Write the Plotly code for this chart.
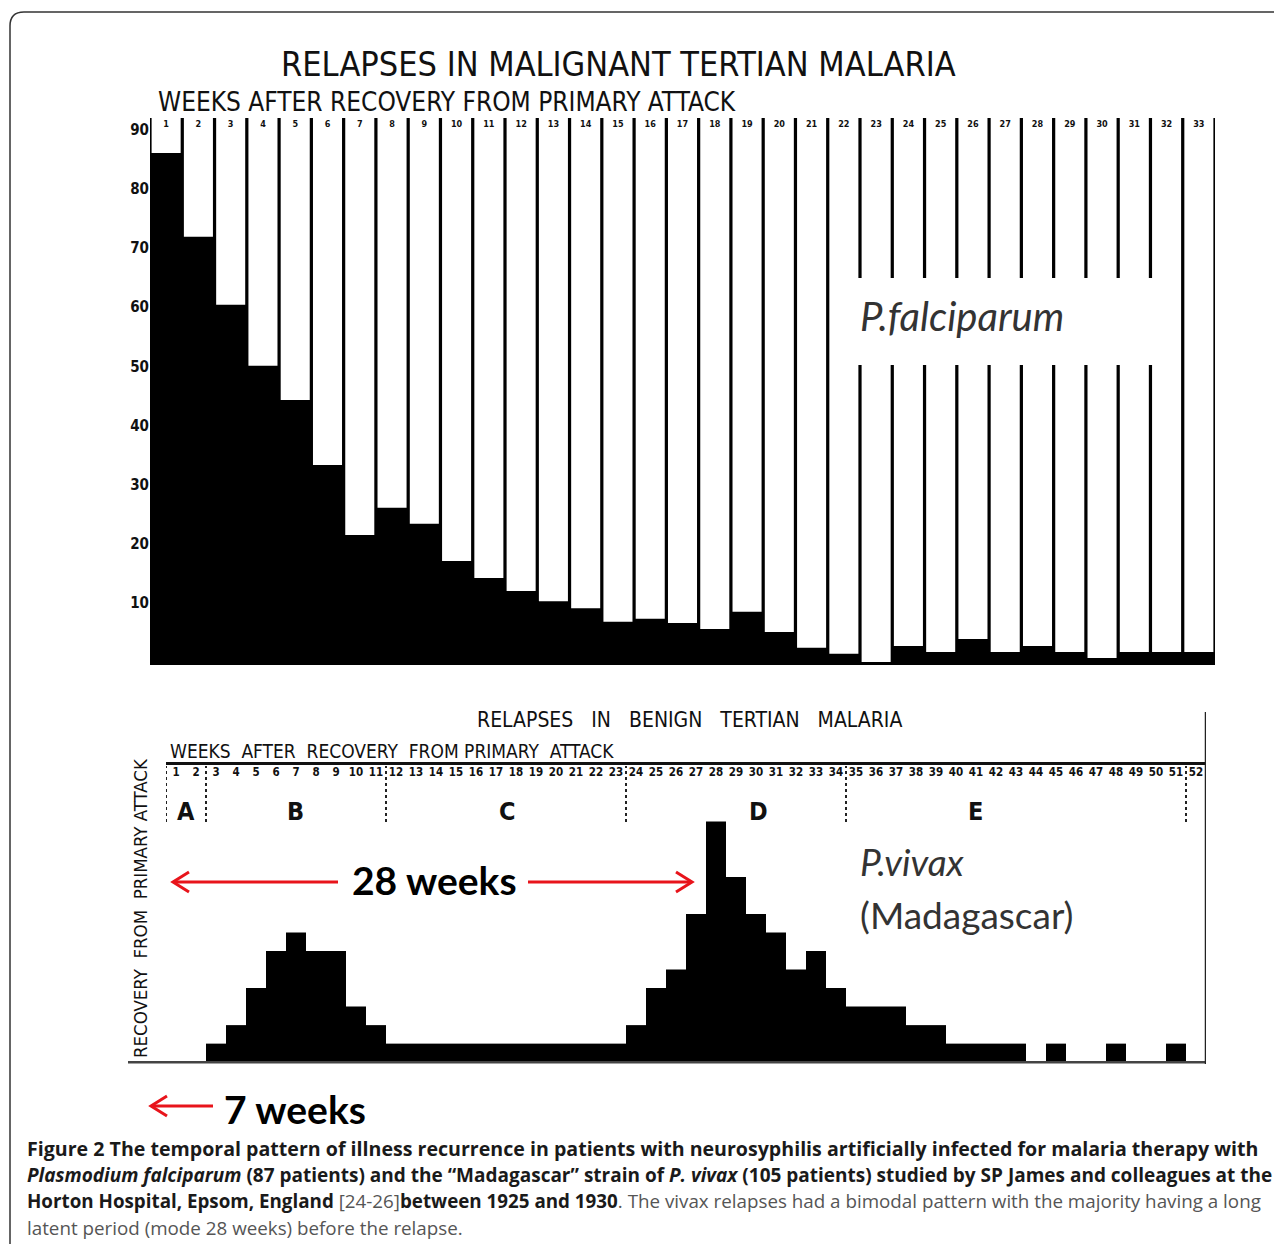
import plotly.graph_objects as go

# The page body has an 8px margin, so the figure is 8px smaller and shifted.
OFF = 8
W, H = 1274, 1236


def px(x):
    return (x - OFF) / W


def py(y):
    return 1 - (y - OFF) / H


# ---------------- data ----------------
weeks_top = list(range(1, 34))
falciparum_pct = [86.1, 71.9, 60.4, 50.1, 44.3, 33.3, 21.5, 26.1, 23.4, 17.1,
                  14.2, 12.0, 10.3, 9.1, 6.8, 7.3, 6.6, 5.6, 8.5, 5.1,
                  2.4, 1.4, 0.0, 2.7, 1.7, 3.9, 1.7, 2.7, 1.7, 0.7,
                  1.7, 1.7, 1.7]
top_tick_text = [str(w) for w in weeks_top]
top_y_ticks = [10, 20, 30, 40, 50, 60, 70, 80, 90]

weeks_bottom = list(range(1, 53))
vivax_counts = [0, 0, 1, 2, 4, 6, 7, 6, 6, 3, 2,
                1, 1, 1, 1, 1, 1, 1, 1, 1, 1, 1, 1,
                2, 4, 5, 8, 13, 10, 8, 7, 5, 6, 4,
                3, 3, 3, 2, 2, 1, 1, 1, 1, 0, 1, 0, 0, 1, 0, 0, 1, 0]
bottom_tick_text = [str(w) for w in weeks_bottom]
phase_bounds = [0.5, 2.5, 11.5, 23.5, 34.5, 51.5]
phase_labels = ["A", "B", "C", "D", "E"]
phase_label_x = [1.5, 6.95, 17.55, 30.1, 40.95]

TOP_MAX = 92.0
SCAN = "Liberation Sans Narrow, DejaVu Sans Condensed, Roboto Condensed, Roboto, sans-serif"
CAL = "Lato, Open Sans, sans-serif"
CAP = "Open Sans, Lato, sans-serif"
RED = "#e8141b"

fig = go.Figure()

# top chart: black survival columns, white remainder above
fig.add_trace(go.Bar(x=weeks_top, y=falciparum_pct, width=1.0, marker=dict(color="black", line_width=0),
                     xaxis="x", yaxis="y", hoverinfo="skip", showlegend=False))
fig.add_trace(go.Bar(x=weeks_top, y=[TOP_MAX - v for v in falciparum_pct], base=falciparum_pct,
                     width=0.9, marker=dict(color="white", line_width=0),
                     xaxis="x", yaxis="y", hoverinfo="skip", showlegend=False))

# bottom chart: histogram of relapses
fig.add_trace(go.Bar(x=weeks_bottom, y=vivax_counts, width=1.0, marker=dict(color="black", line_width=0),
                     xaxis="x2", yaxis="y2", hoverinfo="skip", showlegend=False))

shapes = []
shapes.append(dict(type="rect", xref="x domain", yref="y domain", x0=0, x1=1, y0=0, y1=1,
                   fillcolor="black", line_width=0, layer="below"))
shapes.append(dict(type="rect", xref="paper", yref="paper", x0=px(855), x1=px(1180), y0=py(365), y1=py(278),
                   fillcolor="white", line_width=0, layer="above"))
shapes.append(dict(type="line", xref="paper", yref="y2", x0=px(128), x1=px(1205), y0=0, y1=0,
                   line=dict(color="#444", width=2.5)))
shapes.append(dict(type="line", xref="x2", yref="paper", x0=52.5, x1=52.5, y0=py(1064), y1=py(712),
                   line=dict(color="#222", width=2.5)))
for b in phase_bounds:
    shapes.append(dict(type="line", xref="x2", yref="paper", x0=b, x1=b, y0=py(822), y1=py(766),
                       line=dict(color="#222", width=2, dash="dot")))


def arrow(x_tail, x_tip, y):
    d = 16 if x_tip < x_tail else -16
    shapes.append(dict(type="line", xref="paper", yref="paper", x0=px(x_tail), x1=px(x_tip + (2 if d > 0 else -2)),
                       y0=py(y), y1=py(y), line=dict(color=RED, width=3)))
    path = "M {a},{b} L {c},{d} L {e},{f}".format(a=px(x_tip + d), b=py(y - 10), c=px(x_tip), d=py(y),
                                                e=px(x_tip + d), f=py(y + 10))
    shapes.append(dict(type="path", xref="paper", yref="paper", path=path, line=dict(color=RED, width=3)))


arrow(338, 173, 882)
arrow(528, 692, 882)
arrow(213, 151, 1106)

shapes.append(dict(type="path", xref="paper", yref="paper",
                   path="M {0},{1} L {0},{2} Q {0},{3} {4},{3} L {5},{3}".format(px(10), py(1250), py(26), py(12), px(24), px(1290)),
                   line=dict(color="#333", width=1.5)))

ann = []


def text(t, x, y, size, family=SCAN, color="#111", xanchor="center", weight="normal", xref="paper", angle=0):
    ann.append(dict(text=t, x=x, y=y, xref=xref, yref="paper", showarrow=False, xanchor=xanchor,
                    yanchor="middle", textangle=angle,
                    font=dict(size=size, family=family, color=color, weight=weight)))


text("RELAPSES IN MALIGNANT TERTIAN MALARIA", px(618), py(64), 34)
text("WEEKS AFTER RECOVERY FROM PRIMARY ATTACK", px(447), py(102), 26)
text("<i>P.falciparum</i>", px(858), py(316), 40, family=CAL, color="#333", xanchor="left")

text("RELAPSES&nbsp;&nbsp;&nbsp;IN&nbsp;&nbsp;&nbsp;BENIGN&nbsp;&nbsp;&nbsp;TERTIAN&nbsp;&nbsp;&nbsp;MALARIA", px(689), py(720), 21)
text("WEEKS&nbsp;&nbsp;AFTER&nbsp;&nbsp;RECOVERY&nbsp;&nbsp;FROM PRIMARY&nbsp;&nbsp;ATTACK", px(392), py(751), 19)
text("RECOVERY&nbsp;&nbsp;FROM&nbsp;&nbsp;PRIMARY ATTACK", px(140), py(908), 18.5, angle=-90)
for lab, xp in zip(phase_labels, phase_label_x):
    text(lab, xp, py(811), 25, xref="x2", weight="bold")

text("28 weeks", px(434), py(880), 39, family=CAL, color="black", weight="bold")
text("7 weeks", px(295), py(1109), 39, family=CAL, color="black", weight="bold")
text("<i>P.vivax</i>", px(858), py(862), 37, family=CAL, color="#333", xanchor="left")
text("(Madagascar)", px(858), py(914), 37, family=CAL, color="#333", xanchor="left")

G = '<span style="color:#555">'
caption = [
    "<b>Figure 2 The temporal pattern of illness recurrence in patients with neurosyphilis artificially infected for malaria therapy with</b>",
    "<b><i>Plasmodium falciparum</i> (87 patients) and the \u201cMadagascar\u201d strain of <i>P. vivax</i> (105 patients) studied by SP James and colleagues at the</b>",
    "<b>Horton Hospital, Epsom, England</b> " + G + "[24-26]</span><b>between 1925 and 1930</b>" + G + ". The vivax relapses had a bimodal pattern with the majority having a long</span>",
    G + "latent period (mode 28 weeks) before the relapse.</span>",
]
caption_sizes = [19.6, 19.0, 18.8, 18.8]
for i, line in enumerate(caption):
    text(line, px(25), py(1148 + i * 26.7), caption_sizes[i], family=CAP, color="#1a1a1a", xanchor="left")

fig.update_layout(
    template="none",
    width=W, height=H, autosize=False,
    margin=dict(l=0, r=0, t=0, b=0),
    paper_bgcolor="white", plot_bgcolor="white",
    barmode="overlay", showlegend=False,
    shapes=shapes, annotations=ann,
    xaxis=dict(domain=[px(150), px(1215)], range=[0.5, 33.5], anchor="y", side="top",
               tickmode="array", tickvals=weeks_top, ticktext=top_tick_text,
               ticklabelposition="inside", ticks="", showgrid=False, zeroline=False,
               showline=False,
               tickfont=dict(size=9, family=SCAN, color="#111", weight="bold"), automargin=False),
    yaxis=dict(domain=[py(665), py(118)], range=[-0.5, TOP_MAX], anchor="x",
               tickmode="array", tickvals=top_y_ticks, ticks="", showgrid=False, zeroline=False,
               ticksuffix=" ",
               showline=False, tickfont=dict(size=15, family=SCAN, color="#111", weight="bold"),
               automargin=False),
    xaxis2=dict(domain=[px(166), px(1206)], range=[0.5, 52.5], anchor="y2", side="top",
                tickmode="array", tickvals=weeks_bottom, ticktext=bottom_tick_text,
                ticklabelposition="inside", ticklabelstandoff=3, ticks="", showgrid=False, zeroline=False,
                showline=True, linecolor="#111", linewidth=2.5,
                tickfont=dict(size=11.5, family=SCAN, color="#111", weight="bold"), automargin=False),
    yaxis2=dict(domain=[py(1064), py(765)], range=[-0.1, 16.05], anchor="x2", visible=False,
                showgrid=False, zeroline=False),
)

fig.write_html("out.html")
